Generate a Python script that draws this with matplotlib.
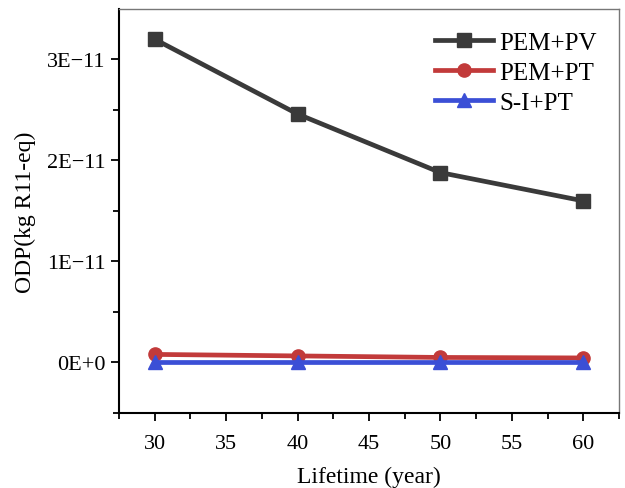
import matplotlib
matplotlib.use("Agg")
import matplotlib.pyplot as plt
from matplotlib.ticker import MultipleLocator, FixedLocator, FuncFormatter

plt.rcParams['font.family'] = ['Liberation Serif', 'DejaVu Serif']

# data (ODP, kg R11-eq)
lifetime = [30, 40, 50, 60]
pem_pv = [3.20e-11, 2.46e-11, 1.88e-11, 1.60e-11]
pem_pt = [0.08e-11, 0.065e-11, 0.05e-11, 0.045e-11]
si_pt = [0.0, 0.0, 0.0, 0.0]
y_ticks = [0.0, 1e-11, 2e-11, 3e-11]
y_minor = [-0.5e-11, 0.5e-11, 1.5e-11, 2.5e-11]

series = [
    ("PEM+PV", pem_pv, "#3a3a3a", "s"),
    ("PEM+PT", pem_pt, "#c23a3a", "o"),
    ("S-I+PT", si_pt, "#3b4fd6", "^"),
]

fig = plt.figure(figsize=(6.25, 4.89), dpi=100)
ax = fig.add_axes([0.1904, 0.1534, 0.80, 0.8262])

for name, vals, col, mk in series:
    ax.plot(lifetime, vals, color=col, marker=mk, lw=3.4, ms=9.5, label=name)

ax.set_xlim(27.5, 62.5)
ax.set_ylim(-0.5e-11, 3.5e-11)
ax.xaxis.set_major_locator(MultipleLocator(5))
ax.xaxis.set_minor_locator(MultipleLocator(2.5))
ax.yaxis.set_major_locator(FixedLocator(y_ticks))
ax.yaxis.set_minor_locator(FixedLocator(y_minor))


def fmt_y(v, pos):
    if abs(v) < 1e-15:
        return "0E+0"
    return "%dE\u221211" % round(v / 1e-11)


ax.yaxis.set_major_formatter(FuncFormatter(fmt_y))

ax.tick_params(which='both', direction='out', top=False, right=False,
               labelsize=16, colors='black')
ax.tick_params(which='major', length=6, width=1.3)
ax.tick_params(which='minor', length=4, width=1.3)
ax.tick_params(axis='x', which='major', pad=9)

for s in ['left', 'bottom']:
    ax.spines[s].set_linewidth(1.5)
    ax.spines[s].set_color('black')
for s in ['top', 'right']:
    ax.spines[s].set_linewidth(1.0)
    ax.spines[s].set_color('#777777')

ax.set_xlabel("Lifetime (year)", fontsize=17, labelpad=9)
ax.set_ylabel("ODP(kg R11-eq)", fontsize=17, labelpad=8)

ax.legend(loc='upper right', frameon=False, fontsize=18, handlelength=2.3,
          labelspacing=0.3, handletextpad=0.25, borderaxespad=0.5)

fig.savefig("out.png", dpi=100)
